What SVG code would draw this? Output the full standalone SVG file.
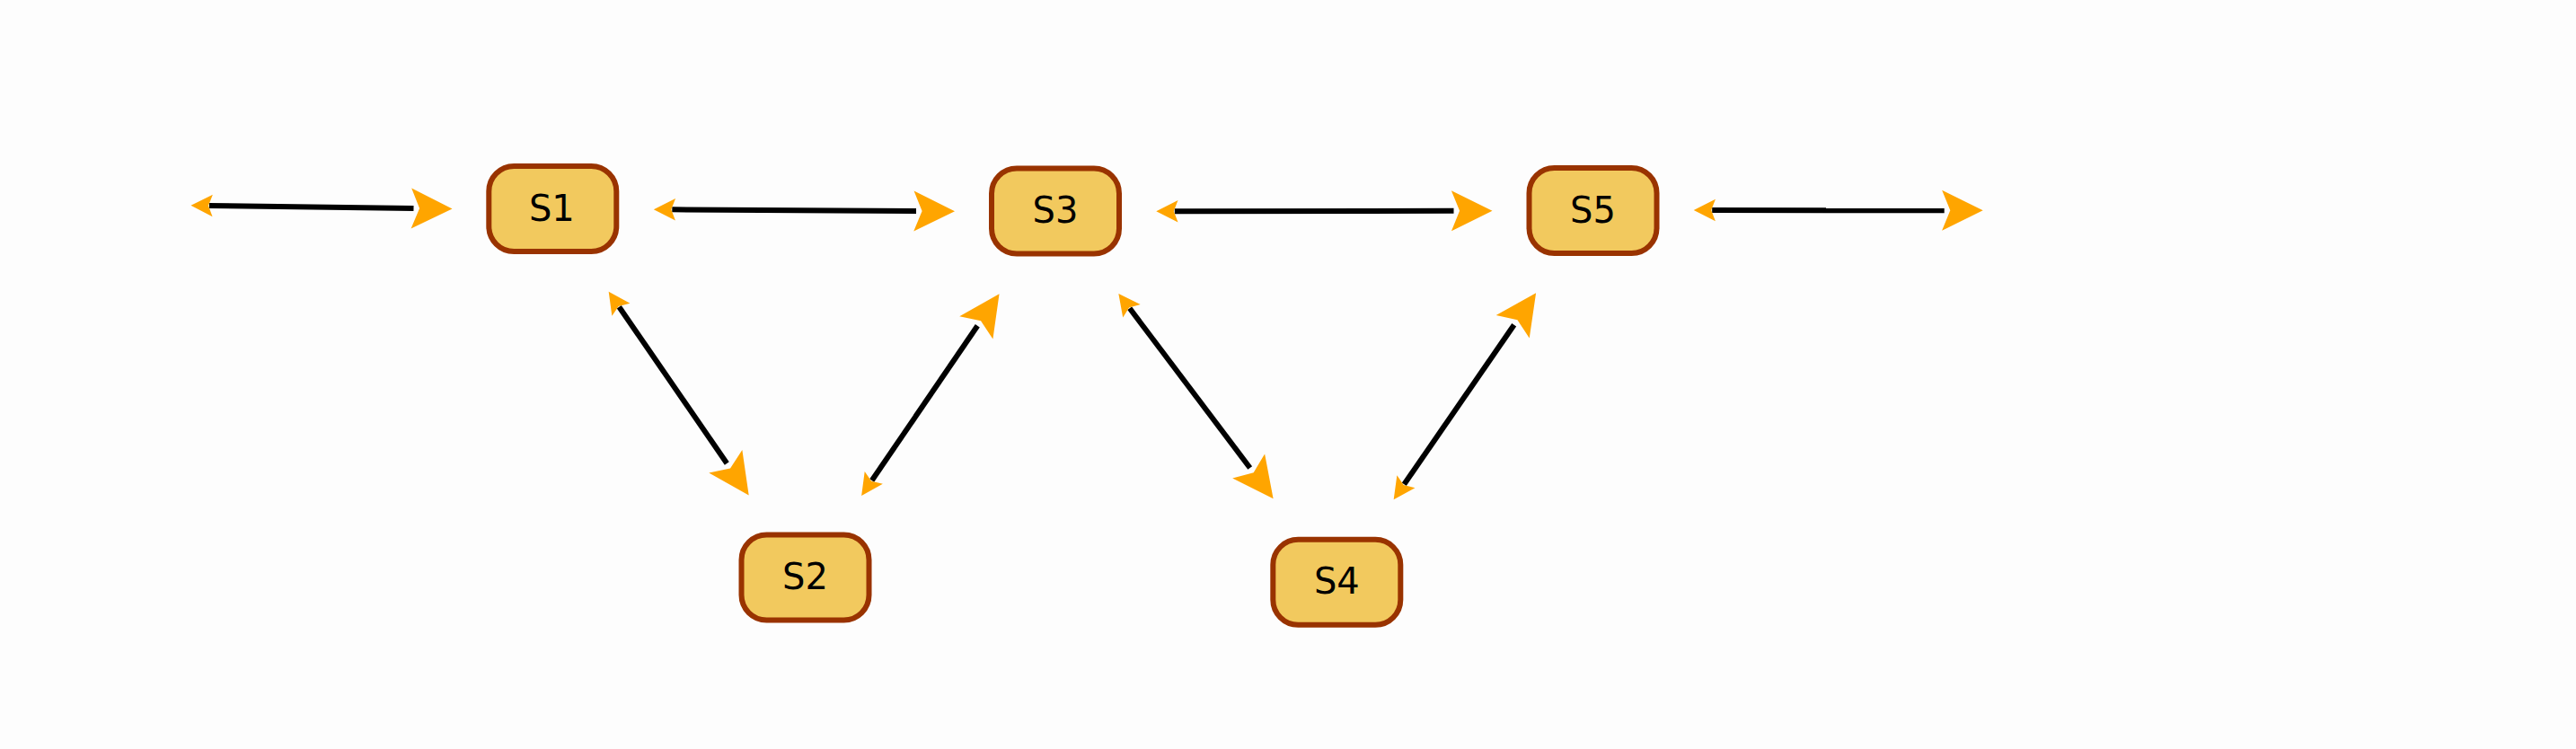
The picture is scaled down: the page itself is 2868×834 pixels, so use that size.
<svg xmlns="http://www.w3.org/2000/svg" width="2868" height="834" viewBox="0 0 2868 834">
  <style>
    .node rect { fill: #F2C95E; stroke: #993300; stroke-width: 6; }
    .node text { font-family: "DejaVu Sans", Verdana, sans-serif; font-size: 40px; fill: #000; text-anchor: middle; }
    .edge { fill: none; stroke: #000; stroke-width: 6; marker-start: url(#tail); marker-end: url(#head); }
  </style>
  <defs>
    <marker id="head" markerUnits="userSpaceOnUse" orient="auto" refX="0" refY="0" viewBox="-10 -30 60 60" markerWidth="60" markerHeight="60" overflow="visible">
      <path d="M-2.6,-22.5 L43,0 L-2.6,22.5 L6.6,0 Z" fill="#FFA500"/>
    </marker>
    <marker id="tail" markerUnits="userSpaceOnUse" orient="auto" refX="0" refY="0" viewBox="-30 -20 40 40" markerWidth="40" markerHeight="40" overflow="visible">
      <path d="M3.7,-12.2 L-20.5,0 L3.7,12.2 L-1,0 Z" fill="#FFA500"/>
    </marker>
  </defs>
  <rect x="0" y="0" width="2868" height="834" fill="#FDFDFD"/>
  <g id="connectors">
    <path class="edge" d="M233,229 L460.5,232"/>
    <path class="edge" d="M748.3,233.3 L1020,235"/>
    <path class="edge" d="M1307.8,235.3 L1618.5,234.8"/>
    <path class="edge" d="M1906.2,234 L2164.7,234.3"/>
    <path class="edge" d="M689.3,341.7 L809.3,516"/>
    <path class="edge" d="M970.7,535 L1088.3,362.7"/>
    <path class="edge" d="M1257.7,343.3 L1391.7,521"/>
    <path class="edge" d="M1563.3,539.3 L1685.7,361.7"/>
  </g>
  <g id="S1" class="node">
    <rect x="544.3" y="185" width="142" height="95" rx="28" ry="28"/>
    <text x="614.3" y="246">S1</text>
  </g>
  <g id="S2" class="node">
    <rect x="825.5" y="595.5" width="142" height="95" rx="28" ry="28"/>
    <text x="896.5" y="656">S2</text>
  </g>
  <g id="S3" class="node">
    <rect x="1104" y="187.5" width="142" height="95" rx="28" ry="28"/>
    <text x="1175" y="248">S3</text>
  </g>
  <g id="S4" class="node">
    <rect x="1417.3" y="600.8" width="142" height="95" rx="28" ry="28"/>
    <text x="1488.3" y="661.3">S4</text>
  </g>
  <g id="S5" class="node">
    <rect x="1702.5" y="187" width="142" height="95" rx="28" ry="28"/>
    <text x="1773.5" y="247.5">S5</text>
  </g>
</svg>
